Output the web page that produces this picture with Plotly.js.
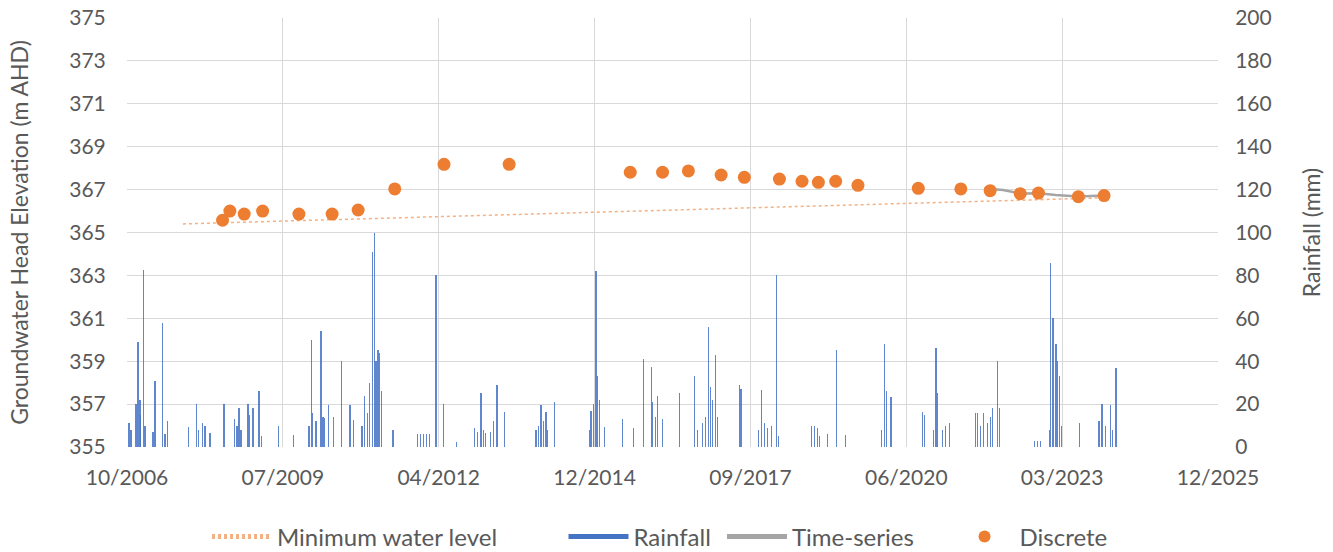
<!DOCTYPE html>
<html>
<head>
<meta charset="utf-8">
<script src="https://cdn.plot.ly/plotly-3.0.1.min.js"></script>
<style>html,body{margin:0;padding:0;background:#fff;}#chart{width:1333px;height:552px;}</style>
</head>
<body>
<div id="chart"></div>
<script>
// X-axis ticks (dates) and labels
const xTickDates = ['2006-10-10','2009-07-06','2012-04-01','2014-12-27','2017-09-22','2020-06-18','2023-03-15','2025-12-09'];
const xTickLabels = ['10/2006','07/2009','04/2012','12/2014','09/2017','06/2020','03/2023','12/2025'];

// Discrete groundwater observations (m AHD)
const discreteDates = ['2008-06-14','2008-07-31','2008-10-31','2009-02-26','2009-10-17','2010-05-18','2010-11-01','2011-06-24','2012-05-05','2013-06-27','2015-08-13','2016-03-07','2016-08-20','2017-03-18','2017-08-14','2018-03-27','2018-08-19','2018-12-02','2019-03-23','2019-08-13','2020-09-03','2021-06-03','2021-12-08','2022-06-19','2022-10-14','2023-06-27','2023-12-09'];
const discreteLevels = [365.57,366.00,365.86,366.00,365.86,365.86,366.05,367.03,368.18,368.18,367.81,367.81,367.87,367.68,367.57,367.49,367.39,367.34,367.39,367.20,367.06,367.03,366.95,366.81,366.84,366.67,366.72];

// Time-series logger (m AHD)
const seriesDates = ['2021-11-01','2022-03-01','2022-06-19','2022-10-14','2023-02-01','2023-06-27','2023-12-09'];
const seriesLevels = [367.05,366.98,366.82,366.83,366.75,366.68,366.72];

// Minimum water level trend (m AHD)
const minDates = ['2007-10-04','2023-11-07'];
const minLevels = [365.40,366.61];

// Rainfall (mm)
const rainDates = ['2006-10-23','2006-11-05','2006-12-07','2006-12-19','2007-01-01','2007-01-07','2007-01-22','2007-02-02','2007-03-25','2007-04-07','2007-05-24','2007-06-10','2007-06-27','2007-11-07','2007-12-30','2008-01-14','2008-02-05','2008-02-22','2008-03-25','2008-06-23','2008-09-01','2008-09-14','2008-09-27','2008-10-10','2008-11-25','2008-12-06','2008-12-26','2009-02-03','2009-02-20','2009-06-06','2009-09-11','2009-12-20','2010-01-06','2010-01-14','2010-02-03','2010-03-07','2010-03-20','2010-04-01','2010-04-27','2010-05-29','2010-07-17','2010-09-09','2010-09-30','2010-11-25','2010-12-14','2011-01-01','2011-01-15','2011-01-30','2011-02-12','2011-02-23','2011-03-09','2011-03-20','2011-04-02','2011-06-13','2011-11-19','2011-12-08','2011-12-27','2012-01-14','2012-02-02','2012-03-15','2012-05-01','2012-07-25','2012-11-16','2012-12-08','2012-12-28','2013-01-14','2013-01-27','2013-02-28','2013-03-20','2013-04-10','2013-05-27','2013-12-16','2014-01-02','2014-01-17','2014-02-03','2014-02-18','2014-03-01','2014-04-13','2014-11-25','2014-12-04','2014-12-21','2015-01-05','2015-01-16','2015-01-29','2015-02-28','2015-06-25','2015-09-04','2015-11-07','2015-12-26','2016-01-05','2016-01-22','2016-02-06','2016-03-09','2016-06-24','2016-09-28','2016-10-17','2016-11-20','2016-12-08','2016-12-28','2017-01-09','2017-01-22','2017-02-10','2017-02-23','2017-07-14','2017-07-23','2017-11-13','2017-11-30','2017-12-21','2018-01-09','2018-02-02','2018-03-06','2018-03-21','2018-10-18','2018-11-07','2018-11-26','2018-12-09','2019-01-29','2019-03-29','2019-05-24','2020-01-10','2020-01-29','2020-02-11','2020-03-12','2020-09-29','2020-10-12','2020-12-08','2020-12-26','2021-01-03','2021-02-06','2021-02-23','2021-03-21','2021-09-04','2021-09-18','2021-10-06','2021-10-25','2021-11-21','2021-12-09','2021-12-24','2022-01-25','2022-02-05','2022-09-17','2022-10-06','2022-10-25','2022-12-22','2023-01-01','2023-01-16','2023-02-03','2023-02-11','2023-02-24','2023-03-09','2023-07-02','2023-11-07','2023-11-25','2023-12-16','2024-01-17','2024-01-30','2024-02-23'];
const rainMm = [11,8,20,49,22,15,82.5,10,7,31,58,6,12,9.5,20,8,11,10,6.5,20,13,10,18,8,20,15,18,26,5,10,5.6,10,50,16,12,54,14,13.5,19.6,14,40,19.6,12.6,10,24,16,30,91,100,40,45,44,26,8,6,6,6,6,6,80,20,2.5,9,7,25,8,6.5,7,12,29,16.5,8,10,19.6,12,16.5,8,21,8,17,20,82,33,22,9.5,13,8.7,41,37.4,21,14,24,13,25,33,8,11,14,56,28,22,43,14,29,27,8,26.6,11,9,10,80,5,9.6,10,9,5,6,45,5.5,8,48,26,23.4,16.5,15,8,46,25,8,10,11,15.7,15.7,10,15.7,11,14,18,40,18,3,3,3,8,85.6,60,48,40,33,10,11,12,20,10,19.6,8,36.7];

// Legend labels
const legendNames = ['Minimum water level', 'Rainfall', 'Time-series', 'Discrete'];

const DAY = 86400000;
const grey = '#595959';
const fontFam = 'Lato, "Open Sans", sans-serif';
const blue = '#4472C4';
const pad = n => '\u00a0'.repeat(n);

const traces = [
  {
    type: 'scatter', mode: 'lines', name: legendNames[0] + pad(10),
    x: minDates, y: minLevels, yaxis: 'y',
    line: {color: '#F4B183', width: 1.5, dash: '3px,3px'}
  },
  {
    type: 'bar', name: legendNames[1], showlegend: false, legendgroup: 'rain',
    x: rainDates, y: rainMm, yaxis: 'y2',
    width: rainDates.map(() => 8 * DAY),
    marker: {color: blue, opacity: 0.85, line: {width: 0}}
  },
  {
    // legend key for rainfall (wide bar-like swatch)
    type: 'scatter', mode: 'lines', name: legendNames[1] + pad(1), legendgroup: 'rain',
    x: [null], y: [null], yaxis: 'y2',
    line: {color: blue, width: 10}
  },
  {
    type: 'scatter', mode: 'lines', name: legendNames[2] + pad(5),
    x: seriesDates, y: seriesLevels, yaxis: 'y',
    line: {color: '#A5A5A5', width: 2.5}
  },
  {
    type: 'scatter', mode: 'markers', name: legendNames[3],
    x: discreteDates, y: discreteLevels, yaxis: 'y',
    marker: {color: '#ED7D31', size: 13}
  }
];

const layout = {
  width: 1333, height: 552,
  margin: {l: 127, r: 115, t: 18, b: 105, autoexpand: false},
  paper_bgcolor: '#fff', plot_bgcolor: '#fff',
  font: {family: fontFam, size: 21, color: grey},
  showlegend: true,
  bargap: 0,
  xaxis: {
    type: 'date',
    range: [xTickDates[0], xTickDates[xTickDates.length - 1]],
    tickmode: 'array', tickvals: xTickDates, ticktext: xTickLabels,
    showgrid: true, gridcolor: '#D9D9D9', gridwidth: 1,
    zeroline: false, showline: false,
    ticks: 'outside', ticklen: 12, tickcolor: 'rgba(0,0,0,0)',
    tickfont: {size: 21, color: grey}
  },
  yaxis: {
    range: [355, 375], tickmode: 'linear', tick0: 355, dtick: 2,
    showgrid: true, gridcolor: '#D9D9D9', gridwidth: 1,
    zeroline: false, showline: false,
    ticks: 'outside', ticklen: 16, tickcolor: 'rgba(0,0,0,0)',
    tickfont: {size: 21, color: grey},
    title: {text: 'Groundwater Head Elevation (m AHD)', font: {size: 23, color: grey}, standoff: 34}
  },
  yaxis2: {
    overlaying: 'y', side: 'right',
    range: [0, 200], tickmode: 'linear', tick0: 0, dtick: 20,
    showgrid: false, zeroline: false, showline: false,
    ticks: 'outside', ticklen: 12, tickcolor: 'rgba(0,0,0,0)',
    tickfont: {size: 21, color: grey},
    title: {text: 'Rainfall (mm)', font: {size: 23, color: grey}, standoff: 33}
  },
  legend: {
    orientation: 'h', x: (660 - 127) / 1091, xanchor: 'center',
    yref: 'container', y: 15 / 552, yanchor: 'middle',
    font: {size: 24, color: grey}, itemwidth: 60, traceorder: 'normal',
    itemsizing: 'constant'
  }
};

Plotly.newPlot('chart', traces, layout, {displayModeBar: false, staticPlot: true});
</script>
</body>
</html>
